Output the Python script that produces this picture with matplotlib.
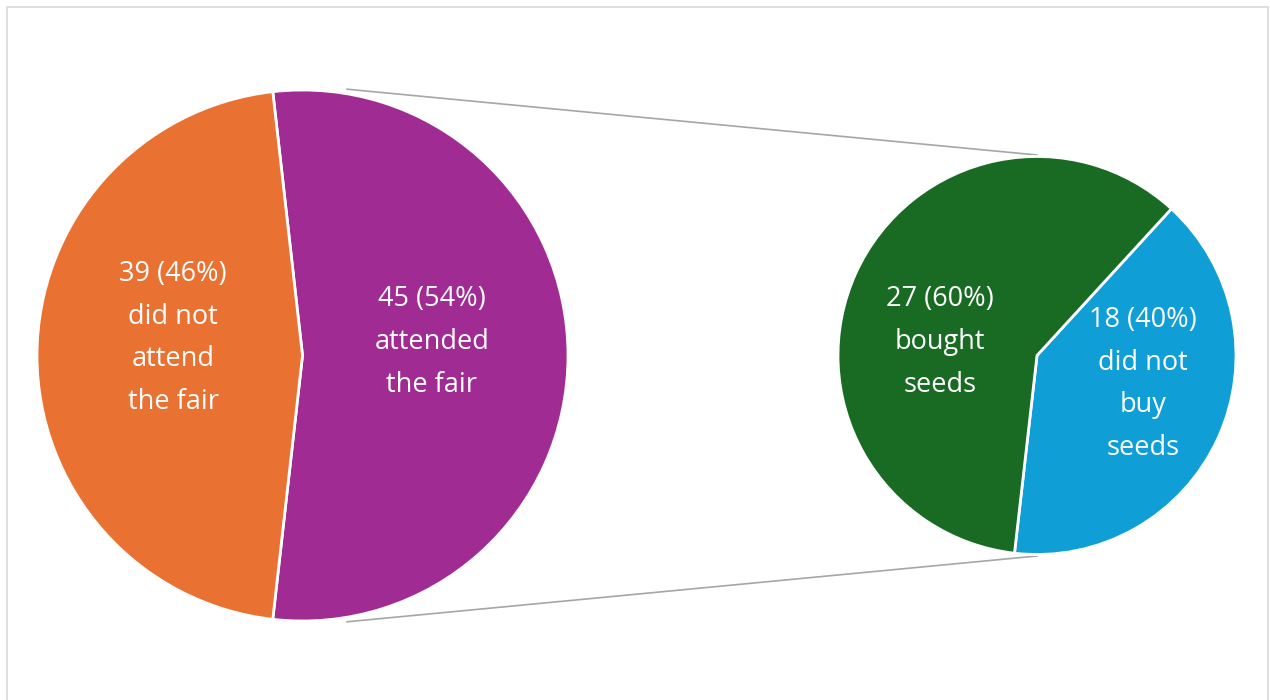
import matplotlib
matplotlib.use("Agg")
import matplotlib.pyplot as plt
import numpy as np
from matplotlib.patches import Rectangle

# Data
main_labels = ["attended\nthe fair", "did not\nattend\nthe fair"]
main_values = [45, 39]
main_colors = ["#A02B93", "#E97132"]

sub_labels = ["did not\nbuy\nseeds", "bought\nseeds"]
sub_values = [18, 27]
sub_colors = ["#0F9ED5", "#196B24"]

W, H = 1270, 700
fig = plt.figure(figsize=(W / 100, H / 100), dpi=100)
ax = fig.add_axes([0, 0, 1, 1])
ax.set_xlim(0, W)
ax.set_ylim(0, H)
ax.set_aspect("equal")
ax.axis("off")

plt.rcParams["font.family"] = ["Open Sans", "DejaVu Sans"]

c1 = (302.5, H - 355.5)
r1 = 265.5
c2 = (1037.0, H - 355.5)
r2 = 199.0

tot1 = sum(main_values)
span1 = main_values[0] / tot1 * 360
start1 = 90 + (span1 - 180) / 2
ax.pie(main_values, colors=main_colors, center=c1, radius=r1,
       startangle=start1, counterclock=False,
       wedgeprops=dict(edgecolor="white", linewidth=2.0), frame=True)

ax.pie(sub_values, colors=sub_colors, center=c2, radius=r2,
       startangle=47.5, counterclock=False,
       wedgeprops=dict(edgecolor="white", linewidth=2.0), frame=True)

ax.set_xlim(0, W)
ax.set_ylim(0, H)
ax.axis("off")

# connector lines
def pt(c, r, a):
    return c[0] + r * np.cos(np.radians(a)), c[1] + r * np.sin(np.radians(a))

for s in (1, -1):
    p1 = pt(c1, 270, 80.5 * s)
    p2 = pt(c2, 200.5, 90 * s)
    ax.plot([p1[0], p2[0]], [p1[1], p2[1]], color="#A6A6A6", lw=1.2, zorder=0.5)

# labels
fs = 19.5
ls = 1.7
def lab(x, y, value, pct, text):
    ax.text(x, H - y, f"{value} ({pct}%)\n{text}", ha="center", va="center",
            color="white", fontsize=fs, linespacing=ls)

lab(173, 338, main_values[1], round(main_values[1] / tot1 * 100), main_labels[1])
lab(432, 342, main_values[0], round(main_values[0] / tot1 * 100), main_labels[0])
tot2 = sum(sub_values)
lab(940, 342, sub_values[1], round(sub_values[1] / tot2 * 100), sub_labels[1])
lab(1143, 384, sub_values[0], round(sub_values[0] / tot2 * 100), sub_labels[0])

# border
fig.patches.append(Rectangle((6.5 / W, -0.05), (1267.5 - 6.5) / W, (H - 7.5) / H + 0.05,
                             transform=fig.transFigure, fill=False,
                             edgecolor="#D9D9D9", linewidth=1.2))

fig.savefig("out.png", dpi=100)
